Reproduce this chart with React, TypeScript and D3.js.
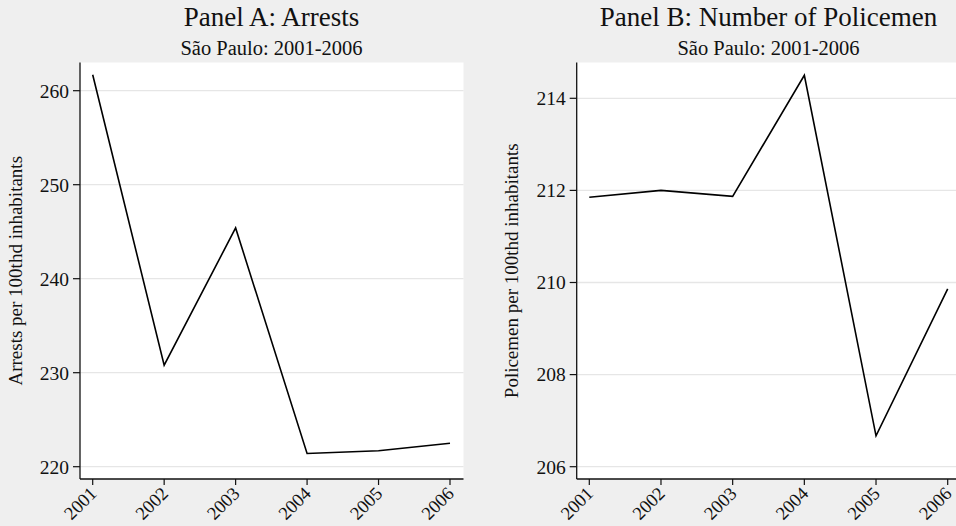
import React from 'react';
import { scaleLinear, scalePoint, line } from 'd3';

const years = ['2001', '2002', '2003', '2004', '2005', '2006'];
const arrests = [261.7, 230.8, 245.4, 221.4, 221.7, 222.5];
const policemen = [211.85, 212.0, 211.87, 214.5, 206.67, 209.86];
const arrestTicks = [220, 230, 240, 250, 260];
const policeTicks = [206, 208, 210, 212, 214];

const FONT = '"Liberation Serif", "Times New Roman", serif';

type PanelProps = {
  title: string;
  subtitle: string;
  yLabel: string;
  values: number[];
  ticks: number[];
  left: number;
  right: number;
  titleX: number;
  yLabelX: number;
  yDomain: [number, number];
  yRange: [number, number];
  xFirst: number;
  xLast: number;
};

const Panel = (p: PanelProps) => {
  const top = 62.5;
  const bottom = 479;
  const x = scalePoint<string>().domain(years).range([p.xFirst, p.xLast]);
  const y = scaleLinear().domain(p.yDomain).range(p.yRange);
  const path = line<number>()
    .x((_, i) => x(years[i]) as number)
    .y((d) => y(d))(p.values);

  return (
    <g fontFamily={FONT}>
      <rect x={p.left} y={top} width={p.right - p.left} height={bottom - top} fill="#ffffff" />
      <text x={p.titleX} y={26} textAnchor="middle" fontSize={27} fill="#111">
        {p.title}
      </text>
      <text x={p.titleX} y={55} textAnchor="middle" fontSize={20.5} fill="#111">
        {p.subtitle}
      </text>
      {p.ticks.map((t) => (
        <g key={t}>
          <line x1={p.left} x2={p.right} y1={y(t)} y2={y(t)} stroke="#e6e6e6" strokeWidth={1.3} />
          <line x1={p.left - 7} x2={p.left} y1={y(t)} y2={y(t)} stroke="#111" strokeWidth={1.2} />
          <text x={p.left - 11} y={y(t)} dy="0.35em" textAnchor="end" fontSize={19.5} fill="#111">
            {t}
          </text>
        </g>
      ))}
      {years.map((yr) => {
        const xx = x(yr) as number;
        return (
          <g key={yr}>
            <line x1={xx} x2={xx} y1={bottom} y2={bottom + 6} stroke="#111" strokeWidth={1.2} />
            <text
              transform={`translate(${xx + 0.5},${bottom + 11}) rotate(-45)`}
              textAnchor="end"
              dy="0.35em"
              fontSize={18.5}
              fill="#111"
            >
              {yr}
            </text>
          </g>
        );
      })}
      <line x1={p.left} x2={p.left} y1={top} y2={bottom} stroke="#111" strokeWidth={1.3} />
      <line x1={p.left} x2={p.right} y1={bottom} y2={bottom} stroke="#111" strokeWidth={1.3} />
      <path d={path ?? ''} fill="none" stroke="#000" strokeWidth={1.6} />
      <text
        transform={`translate(${p.yLabelX},${(top + bottom) / 2}) rotate(-90)`}
        textAnchor="middle"
        fontSize={19}
        fill="#111"
      >
        {p.yLabel}
      </text>
    </g>
  );
};

const App = () => (
  <svg
    width={956}
    height={526}
    style={{ position: 'absolute', left: 0, top: 0, background: '#efefef' }}
  >
    <rect width={956} height={526} fill="#efefef" />
    <Panel
      title="Panel A: Arrests"
      subtitle="São Paulo: 2001-2006"
      yLabel="Arrests per 100thd inhabitants"
      values={arrests}
      ticks={arrestTicks}
      left={80}
      right={463.5}
      titleX={271.5}
      yLabelX={22}
      yDomain={[220, 260]}
      yRange={[466.7, 90.7]}
      xFirst={92.7}
      xLast={450}
    />
    <Panel
      title="Panel B: Number of Policemen"
      subtitle="São Paulo: 2001-2006"
      yLabel="Policemen per 100thd inhabitants"
      values={policemen}
      ticks={policeTicks}
      left={576.7}
      right={960}
      titleX={768.5}
      yLabelX={518}
      yDomain={[206, 214]}
      yRange={[466.7, 98.3]}
      xFirst={589.3}
      xLast={947.7}
    />
  </svg>
);

export default App;
